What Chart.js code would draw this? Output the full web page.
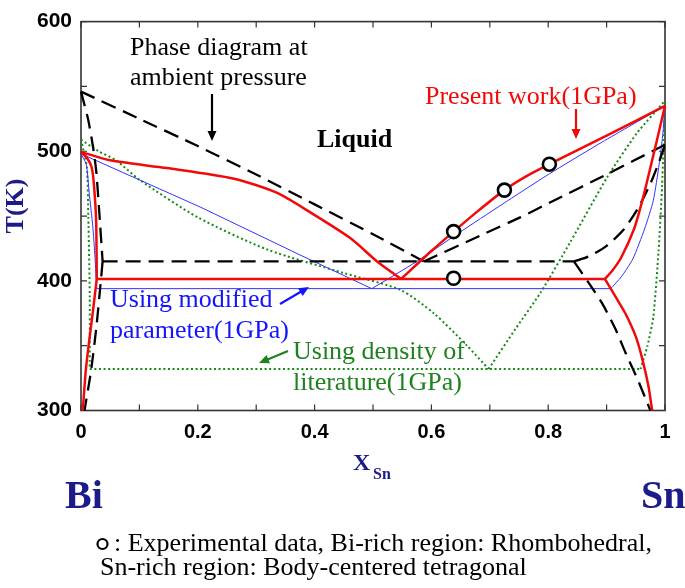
<!DOCTYPE html>
<html><head><meta charset="utf-8">
<script src="https://cdn.jsdelivr.net/npm/chart.js@4.4.1/dist/chart.umd.min.js"></script>
<style>html,body{margin:0;padding:0;background:#fff;}#wrap{position:relative;width:685px;height:588px;}</style>
</head><body><div id="wrap"><canvas id="c" width="685" height="588"></canvas></div>
<script>
// ---- tick labels ----
const xTickLabels = [0, 0.2, 0.4, 0.6, 0.8, 1];
const yTickLabels = [300, 400, 500, 600];

// ---- Phase diagram at ambient pressure (black dashed) [X_Sn, T(K)] ----
const ambLiqL = [[0,546],[0.1,525],[0.2,504],[0.3,482],[0.4,459],[0.5,436],[0.587,415]];
const ambLiqR = [[0.587,415],[0.684,435],[0.752,449],[0.81,462],[0.895,481],[1,505]];
const ambSolBi = [[0,546],[0.012,525],[0.02,505],[0.026,485],[0.031,455],[0.037,415]];
const ambSolvBi = [[0.037,415],[0.034,400],[0.026,363],[0.017,330],[0.006,300]];
const ambEut = [[0.037,415],[0.844,415]];
const ambSolSn = [[0.844,415],[0.87,419],[0.9,427],[0.93,440],[0.955,457],[0.975,475],[0.99,492],[1,505]];
const ambSolvSn = [[0.844,415],[0.87,398],[0.892,383],[0.915,363],[0.932,345],[0.955,322],[0.975,300]];

// ---- Present work (1GPa) (red) ----
const pwLiqL = [[0,499.5],[0.05,493],[0.147,487],[0.26,479],[0.335,468],[0.392,453],[0.461,433],[0.507,415],[0.548,401.5]];
const pwLiqR = [[0.548,401.5],[0.6,423],[0.638,438],[0.68,454],[0.725,470],[0.76,480],[0.802,490],[0.9,512],[1,535]];
const pwSolBi = [[0,499.5],[0.01,495],[0.018,488],[0.022,475],[0.026,445],[0.027,401.5]];
const pwSolvBi = [[0.027,401.5],[0.02,375],[0.013,350],[0.008,330],[0.003,300]];
const pwEut = [[0.027,401.5],[0.897,401.5]];
const pwSolSn = [[0.897,401.5],[0.91,408],[0.925,418],[0.947,440],[0.96,460],[0.97,478],[0.988,512],[1,535]];
const pwSolvSn = [[0.897,401.5],[0.915,388],[0.932,375],[0.95,357],[0.961,340],[0.972,318],[0.978,300]];

// ---- Using modified parameter (1GPa) (blue) ----
const mpLiqL = [[0,498],[0.204,457],[0.375,420],[0.498,394]];
const mpLiqR = [[0.498,394],[0.575,415],[0.647,437],[0.721,459],[0.8,482],[0.892,507],[1,535]];
const mpSolBi = [[0,498],[0.009,490],[0.014,468],[0.02,443],[0.024,418],[0.027,394]];
const mpEut = [[0.027,394],[0.907,394]];
const mpSolSn = [[0.907,394],[0.925,403],[0.945,417],[0.965,440],[0.98,462],[0.99,490],[0.996,512],[1,535]];

// ---- Using density of literature (1GPa) (green dotted) ----
const dlLiqL = [[0,509],[0.03,500],[0.06,493],[0.1,478],[0.2,449],[0.32,424],[0.45,406],[0.547,393],[0.604,375],[0.661,350],[0.698,332]];
const dlLiqR = [[0.698,332],[0.744,363],[0.787,391],[0.838,430],[0.901,480],[0.952,514],[1,539]];
const dlSolBi = [[0,509],[0.01,488],[0.0125,450],[0.015,388],[0.015,332]];
const dlEut = [[0.015,332],[0.958,332]];
const dlSolSn = [[0.958,332],[0.97,350],[0.98,372],[0.989,423],[0.995,473],[1,539]];

// ---- Experimental data (circles) ----
const expX = [0.638, 0.725, 0.802, 0.638];
const expT = [438, 470, 490, 402];

const toXY = a => a.map(p => ({x: p[0], y: p[1]}));
const NAVY = '#1b1b8a';
const RED = 'rgb(240,10,10)';
const BLUE = 'rgb(50,50,255)';
const GREEN = 'rgb(20,140,20)';

function line(data, style, order, tension) {
  return Object.assign({data: toXY(data), showLine: true, pointRadius: 0, fill: false,
    tension: tension || 0, order: order, clip: 4}, style);
}
const sBlack = {borderColor: '#000', borderWidth: 2.3, borderDash: [15, 8]};
const sRed = {borderColor: RED, borderWidth: 2.5};
const sBlue = {borderColor: BLUE, borderWidth: 1};
const sGreen = {borderColor: GREEN, borderWidth: 2, borderDash: [2, 2.6]};

const datasets = [
  line(dlLiqL, sGreen, 5, 0.25), line(dlLiqR, sGreen, 5, 0.2), line(dlSolBi, sGreen, 5, 0.2),
  line(dlEut, sGreen, 5), line(dlSolSn, sGreen, 5, 0.2),
  line(mpLiqL, sBlue, 4), line(mpLiqR, sBlue, 4, 0.2), line(mpSolBi, sBlue, 4, 0.2),
  line(mpEut, sBlue, 4), line(mpSolSn, sBlue, 4, 0.2),
  line(ambLiqL, sBlack, 3, 0.2), line(ambLiqR, sBlack, 3, 0.2), line(ambSolBi, sBlack, 3, 0.2),
  line(ambSolvBi, sBlack, 3, 0.2), line(ambEut, sBlack, 3), line(ambSolSn, sBlack, 3, 0.25),
  line(ambSolvSn, sBlack, 3, 0.2),
  line(pwLiqL, sRed, 2, 0.25), line(pwLiqR, sRed, 2, 0.25), line(pwSolBi, sRed, 2, 0.2),
  line(pwSolvBi, sRed, 2, 0.2), line(pwEut, sRed, 2), line(pwSolSn, sRed, 2, 0.25),
  line(pwSolvSn, sRed, 2, 0.2),
  {data: expX.map((x, i) => ({x: x, y: expT[i]})), showLine: false, pointRadius: 6.5,
   pointBorderWidth: 2.6, pointBorderColor: '#000', pointBackgroundColor: '#fff', order: 0, clip: 8}
];

function arrow(ctx, x1, y1, x2, y2, color, head) {
  const a = Math.atan2(y2 - y1, x2 - x1);
  const h = head || 9;
  ctx.save();
  ctx.strokeStyle = color; ctx.fillStyle = color; ctx.lineWidth = 2.2;
  ctx.beginPath(); ctx.moveTo(x1, y1);
  ctx.lineTo(x2 - Math.cos(a) * h * 0.8, y2 - Math.sin(a) * h * 0.8); ctx.stroke();
  ctx.beginPath(); ctx.moveTo(x2, y2);
  ctx.lineTo(x2 - h * Math.cos(a) + h * 0.45 * Math.sin(a), y2 - h * Math.sin(a) - h * 0.45 * Math.cos(a));
  ctx.lineTo(x2 - h * Math.cos(a) - h * 0.45 * Math.sin(a), y2 - h * Math.sin(a) + h * 0.45 * Math.cos(a));
  ctx.closePath(); ctx.fill();
  ctx.restore();
}
function txt(ctx, s, x, y, font, color, align) {
  ctx.save(); ctx.font = font; ctx.fillStyle = color; ctx.textAlign = align || 'left';
  ctx.textBaseline = 'alphabetic'; ctx.fillText(s, x, y); ctx.restore();
}

const SERIF = '"Liberation Serif", "Times New Roman", serif';
const framePlugin = {
  id: 'frame',
  beforeDatasetsDraw(chart) {
    const {ctx, chartArea: a, scales: {x, y}} = chart;
    ctx.save();
    ctx.strokeStyle = '#333'; ctx.lineWidth = 1.6;
    ctx.strokeRect(a.left, a.top, a.right - a.left, a.bottom - a.top);
    ctx.lineWidth = 1.2;
    ctx.beginPath();
    x.ticks.forEach(t => {
      const px = x.getPixelForValue(t.value);
      ctx.moveTo(px, a.bottom); ctx.lineTo(px, a.bottom - 6);
      ctx.moveTo(px, a.top); ctx.lineTo(px, a.top + 6);
    });
    y.ticks.forEach(t => {
      const py = y.getPixelForValue(t.value);
      ctx.moveTo(a.left, py); ctx.lineTo(a.left + 6, py);
      ctx.moveTo(a.right, py); ctx.lineTo(a.right - 6, py);
    });
    ctx.stroke();
    ctx.restore();
  },
  afterDraw(chart) {
    const ctx = chart.ctx;
    const f26 = '26px ' + SERIF;
    txt(ctx, 'Phase diagram at', 130, 55, f26, '#000');
    txt(ctx, 'ambient pressure', 130, 85, f26, '#000');
    arrow(ctx, 212, 94, 212, 141, '#000', 10);
    txt(ctx, 'Liquid', 317, 147, 'bold 26px ' + SERIF, '#000');
    txt(ctx, 'Present work(1GPa)', 425, 104, f26, RED);
    arrow(ctx, 576, 109, 576, 139, RED, 10);
    txt(ctx, 'Using modified', 110, 307, f26, 'rgb(20,20,255)');
    txt(ctx, 'parameter(1GPa)', 110, 338, f26, 'rgb(20,20,255)');
    arrow(ctx, 280, 304, 309, 287, 'rgb(20,20,255)', 10);
    txt(ctx, 'Using density of', 293, 359, f26, 'rgb(30,130,30)');
    txt(ctx, 'literature(1GPa)', 293, 390, f26, 'rgb(30,130,30)');
    arrow(ctx, 288, 351, 259, 363, 'rgb(30,130,30)', 10);
    // axis titles
    ctx.save(); ctx.translate(23, 206); ctx.rotate(-Math.PI / 2);
    txt(ctx, 'T(K)', 0, 0, 'bold 26px ' + SERIF, NAVY, 'center'); ctx.restore();
    txt(ctx, 'X', 353, 470, 'bold 24px ' + SERIF, NAVY);
    txt(ctx, 'Sn', 373, 479, 'bold 16px ' + SERIF, NAVY);
    txt(ctx, 'Bi', 65, 508, 'bold 40px ' + SERIF, NAVY);
    txt(ctx, 'Sn', 641, 508, 'bold 40px ' + SERIF, NAVY);
    // caption
    ctx.save(); ctx.strokeStyle = '#000'; ctx.lineWidth = 2.2;
    ctx.beginPath(); ctx.arc(102.5, 544, 5, 0, Math.PI * 2); ctx.stroke(); ctx.restore();
    txt(ctx, ': Experimental data, Bi-rich region: Rhombohedral,', 114, 551, f26, '#000');
    txt(ctx, 'Sn-rich region: Body-centered tetragonal', 100, 575, f26, '#000');
  }
};

new Chart(document.getElementById('c'), {
  type: 'scatter',
  data: {datasets: datasets},
  options: {
    responsive: false, animation: false, devicePixelRatio: 1,
    layout: {padding: {top: 10, right: 20, left: 0, bottom: 0}},
    plugins: {legend: {display: false}, tooltip: {enabled: false}},
    scales: {
      x: {type: 'linear', min: 0, max: 1,
        grid: {display: false, drawTicks: false}, border: {display: false},
        ticks: {stepSize: 0.1, autoSkip: false, maxRotation: 0, padding: 10, color: '#000',
          font: {family: '"Liberation Sans", Arial, sans-serif', weight: 'bold', size: 20},
          callback: v => { const r = Math.round(v * 10); return (r % 2 === 0 && xTickLabels.includes(r / 10)) ? String(r / 10) : ''; }},
        afterFit: s => { s.height = 177.5; }},
      y: {type: 'linear', min: 300, max: 600,
        grid: {display: false, drawTicks: false}, border: {display: false},
        ticks: {stepSize: 50, autoSkip: false, padding: 9, color: '#000',
          font: {family: '"Liberation Sans", Arial, sans-serif', weight: 'bold', size: 21},
          callback: v => yTickLabels.includes(v) ? String(v) : ''},
        afterFit: s => { s.width = 81; }}
    }
  },
  plugins: [framePlugin]
});
</script></body></html>
